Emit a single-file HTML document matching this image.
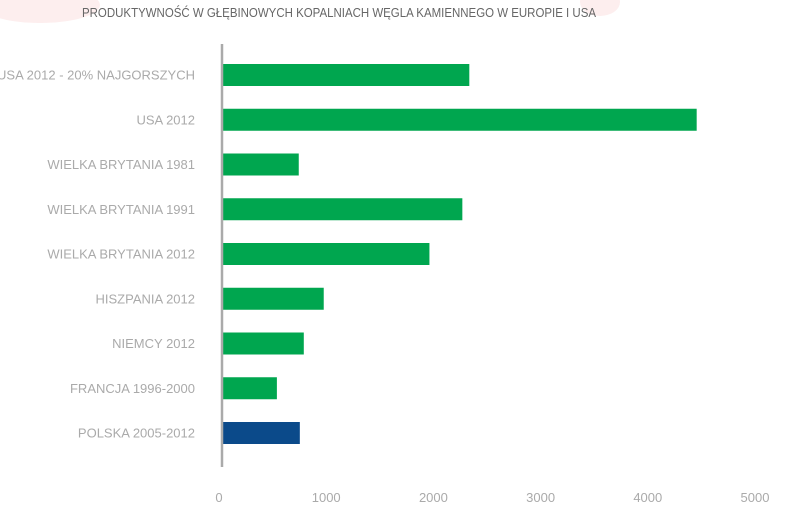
<!DOCTYPE html>
<html><head><meta charset="utf-8"><style>
body{margin:0;background:#fff;width:788px;height:510px;overflow:hidden;font-family:"Liberation Sans Narrow","Liberation Sans",sans-serif}
</style></head><body>
<svg width="788" height="510">
<ellipse cx="40" cy="5" rx="60" ry="18" fill="#fdeeee"/>
<ellipse cx="600" cy="2" rx="20" ry="14" fill="#fdeeee"/>
<text x="82" y="17" font-size="13" fill="#666" textLength="514" lengthAdjust="spacingAndGlyphs">PRODUKTYWNOŚĆ W GŁĘBINOWYCH KOPALNIACH WĘGLA KAMIENNEGO W EUROPIE I USA</text>
<g id="bars"></g>
<line x1="222" y1="44" x2="222" y2="467" stroke="#aaa" stroke-width="2.5"/>
<g id="ticks"></g>
</svg>
<script>
const categories=["USA 2012 - 20% NAJGORSZYCH","USA 2012","WIELKA BRYTANIA 1981","WIELKA BRYTANIA 1991","WIELKA BRYTANIA 2012","HISZPANIA 2012","NIEMCY 2012","FRANCJA 1996-2000","POLSKA 2005-2012"];
const values=[2307,4428,716,2242,1935,949,763,512,726];
const highlight=[false,false,false,false,false,false,false,false,true];
const tickLabels=[0,1000,2000,3000,4000,5000];
const NS="http://www.w3.org/2000/svg";
const x=v=>222+v*0.1072;
const y=i=>75+i*44.75;
const bars=document.getElementById('bars'),ticks=document.getElementById('ticks');
categories.forEach((c,i)=>{
 const r=document.createElementNS(NS,'rect');
 r.setAttribute('x',223);r.setAttribute('y',y(i)-11);r.setAttribute('height',22);
 r.setAttribute('width',x(values[i])-223);
 r.setAttribute('fill',highlight[i]?'#0b4a8a':'#00a64f');
 
 
 bars.appendChild(r);
 const t=document.createElementNS(NS,'text');
 t.setAttribute('x',195);t.setAttribute('y',y(i)+4.5);t.setAttribute('text-anchor','end');
 t.setAttribute('font-size','13');t.setAttribute('fill','#aaa');
 t.textContent=c;
 
 
 ticks.appendChild(t);
});
tickLabels.forEach(v=>{
 const t=document.createElementNS(NS,'text');
 t.setAttribute('x',x(v)-3);t.setAttribute('y',502);t.setAttribute('text-anchor','middle');
 t.setAttribute('font-size','13');t.setAttribute('fill','#aaa');
 t.textContent=v;
 
 
 ticks.appendChild(t);
});
</script>
</body></html>
